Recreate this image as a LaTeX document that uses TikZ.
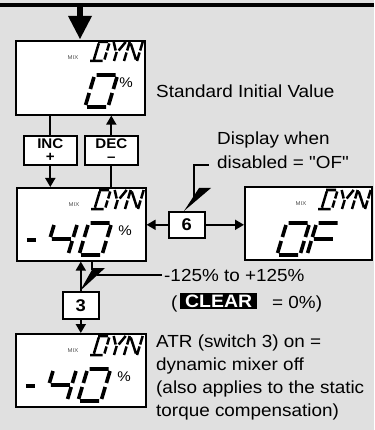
\documentclass[tikz,border=0pt]{standalone}
\usepackage{fontspec}
\setmainfont{Liberation Sans}[FakeStretch=1.08]
\newfontfamily\qfont{Liberation Sans}[FakeStretch=1.08]
\usetikzlibrary{arrows.meta}
\definecolor{bg}{RGB}{224,224,224}
% seven-segment pieces (local frame, y negative = up)
\def\Sa{(2,-32)--(21,-32)}
\def\Sb{(23,-30)--(23,-18)}
\def\Sc{(23,-14)--(23,-2)}
\def\Sd{(2,0)--(21,0)}
\def\Se{(0,-2)--(0,-14)}
\def\Sf{(0,-18)--(0,-30)}
\def\Sg{(2,-16)--(21,-16)}
\def\Sm{(0,-16)--(9,-16)}
% DYN letters
\def\LD{(2.5,-19)--(12.5,-19) (14,-17.5)--(14,-10.5) (14,-8.5)--(14,-1.5) (0,0)--(12.5,0) (3.5,-1.5)--(3.5,-17.5)}
\def\LY{(18,-19)--(22.5,-10.5) (30,-19)--(25.5,-10.5) (24,-9)--(24,0)}
\def\LN{(34,0)--(34,-8.5) (34,-10.5)--(34,-19) (35.5,-17.5)--(45.5,-1.5) (47,0)--(47,-8.5) (47,-10.5)--(47,-19)}
\newcommand\lcdglyph[3]{\begin{scope}[shift={(#1,#2)},xslant=0.3]\draw[seg] #3;\end{scope}}
\newcommand\lcddyn[2]{\begin{scope}[shift={(#1,#2)},xslant=0.3]\draw[dseg] \LD\LY\LN;\end{scope}}
\begin{document}
\begin{tikzpicture}[x=1pt,y=-1pt,
  lcd/.style={draw, line width=1.6pt, fill=white, inner sep=0, anchor=north west},
  keybox/.style={draw, line width=1.6pt, fill=white, inner sep=0, anchor=north west, align=center},
  conn/.style={line width=1.8pt},
  arr/.style={conn, -{Triangle[length=9pt,width=10pt]}},
  txt/.style={anchor=base west, inner sep=0, font=\fontsize{17.5}{21}\selectfont},
  seg/.style={line width=3.6pt},
  dseg/.style={line width=2.5pt},
  mixlbl/.style={font=\fontsize{5.5}{6}\selectfont, text=black!70, inner sep=0},
  pct/.style={font=\fontsize{14}{14}\selectfont, inner sep=0},
]
\fill[bg] (0,0) rectangle (374,430);
\useasboundingbox (0,0) rectangle (374,430);

% top bar and entry arrow
\draw[line width=4pt] (0,5) -- (374,5);
\coordinate (top) at (80,5);

% LCD boxes
\node[lcd, minimum width=129, minimum height=74] (b1) at (15,40) {};
\node[lcd, minimum width=129, minimum height=73] (b2) at (16,187) {};
\node[lcd, minimum width=127, minimum height=73] (bof) at (244,186) {};
\node[lcd, minimum width=130, minimum height=73] (b4) at (15,333) {};

% key boxes
\node[keybox, minimum width=53, minimum height=29, font=\bfseries\fontsize{14}{13.5}\selectfont] (inc) at (23,135) {INC\\+};
\node[keybox, minimum width=53, minimum height=29, font=\bfseries\fontsize{14}{13.5}\selectfont] (dec) at (84,135) {DEC\\–};
\node[keybox, minimum width=36, minimum height=26, font=\bfseries\fontsize{17}{17}\selectfont] (s6) at (168,211) {6};
\node[keybox, minimum width=36, minimum height=27, font=\bfseries\fontsize{17}{17}\selectfont] (s3) at (62,291) {3};

% entry arrow
\fill (77,5) rectangle (83,17);
\fill (68,16) -- (92,16) -- (80,39) -- cycle;

% connectors
\draw[conn] (inc.north) -- (inc.north |- b1.south);
\draw[arr] (inc.south) -- (inc.south |- b2.north);
\draw[arr] (dec.north) -- (dec.north |- b1.south);
\draw[conn] (dec.south) -- (dec.south |- b2.north);
\draw[arr] (s6.west) -- (s6.west -| b2.east);
\draw[arr] (s6.east) -- (s6.east -| bof.west);
\draw[arr] (s3.north) -- (s3.north |- b2.south);
\draw[arr] (s3.south) -- (s3.south |- b4.north);

% switch levers
\fill (184,211) -- (199,188) -- (211,188) -- cycle;
\draw[line width=1.3pt] (194,197) -- (194,165) -- (209,165);
\fill (80,291) -- (93,268) -- (105,268) -- cycle;
\draw[line width=1.3pt] (92,260) -- (92,270);
\draw[line width=1.3pt] (97,275) -- (162,275);

% LCD contents: box 1
\node[mixlbl] (m1) at (73,58) {MIX};
\lcddyn{90}{61}
\lcdglyph{85}{107}{\Sa\Sb\Sc\Sd\Se\Sf}
\node[pct] (p1) at (126,83) {\%};
% box 2
\node[mixlbl] (m2) at (74,205) {MIX};
\lcddyn{91}{209}
\lcdglyph{22}{256}{\Sm}
\lcdglyph{45}{255}{\Sb\Sc\Sf\Sg}
\lcdglyph{79}{255}{\Sa\Sb\Sc\Sd\Se\Sf}
\node[pct] (p2) at (125,231) {\%};
% OF box
\node[mixlbl] (m3) at (301,204) {MIX};
\lcddyn{318}{209}
\lcdglyph{277}{255}{\Sa\Sb\Sc\Sd\Se\Sf}
\lcdglyph{307}{255}{\Sa\Se\Sf\Sg}
% box 4
\node[mixlbl] (m4) at (73,351) {MIX};
\lcddyn{90}{355}
\lcdglyph{21}{402}{\Sm}
\lcdglyph{44}{401}{\Sb\Sc\Sf\Sg}
\lcdglyph{78}{401}{\Sa\Sb\Sc\Sd\Se\Sf}
\node[pct] (p4) at (124,377) {\%};

% texts
\node[txt] (t1) at (156,98) {Standard Initial Value};
\node[txt] (t2) at (217,145) {Display when};
\node[txt] (t3) at (217,168) {disabled = {\qfont "OF"}};
\node[txt] (t4) at (164,281) {-125\% to +125\%};
\node[txt] (t5) at (171,308) {(};
\node[fill=black, text=white, font=\bfseries\fontsize{18}{18}\selectfont, inner xsep=5, inner ysep=0, minimum height=16, anchor=north west] (clr) at (180,293) {CLEAR};
\node[txt] (t6) at (272,308) {= 0\%)};
\node[txt] (t7) at (156,347) {ATR (switch 3) on =};
\node[txt] (t8) at (156,370) {dynamic mixer off};
\node[txt] (t9) at (156,393) {(also applies to the static};
\node[txt] (t10) at (156,416.5) {torque compensation)};
\end{tikzpicture}
\end{document}
